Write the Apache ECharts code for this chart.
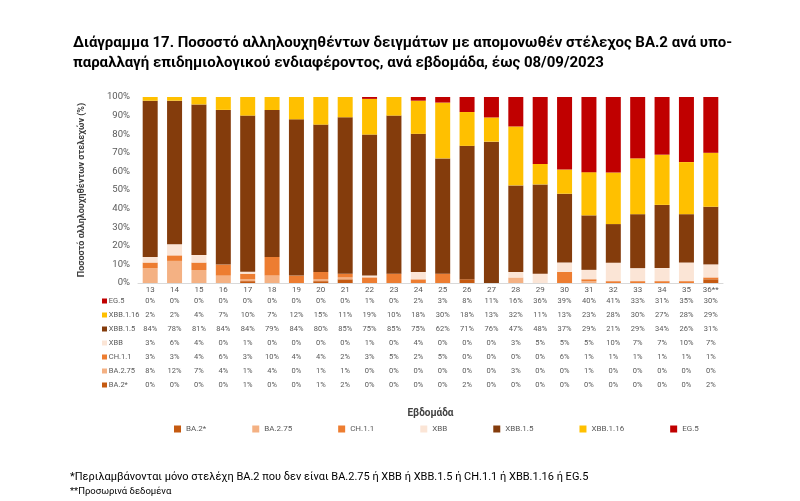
<!DOCTYPE html>
<html>
<head>
<meta charset="utf-8">
<script src="https://cdn.jsdelivr.net/npm/echarts@6/dist/echarts.min.js"></script>
<style>
html,body{margin:0;padding:0;background:#fff;}
#c{width:800px;height:501px;}
</style>
</head>
<body>
<div id="c"></div>
<script>
var weeks = ['13','14','15','16','17','18','19','20','21','22','23','24','25','26','27','28','29','30','31','32','33','34','35','36**'];
var EG5     = [0,0,0,0,0,0,0,0,0,1,0,2,3,8,11,16,36,39,40,41,33,31,35,30];
var XBB116  = [2,2,4,7,10,7,12,15,11,19,10,18,30,18,13,32,11,13,23,28,30,27,28,29];
var XBB15   = [84,78,81,84,84,79,84,80,85,75,85,75,62,71,76,47,48,37,29,21,29,34,26,31];
var XBB     = [3,6,4,0,1,0,0,0,0,1,0,4,0,0,0,3,5,5,5,10,7,7,10,7];
var CH11    = [3,3,4,6,3,10,4,4,2,3,5,2,5,0,0,0,0,6,1,1,1,1,1,1];
var BA275   = [8,12,7,4,1,4,0,1,1,0,0,0,0,0,0,3,0,0,1,0,0,0,0,0];
var BA2     = [0,0,0,0,1,0,0,1,2,0,0,0,0,2,0,0,0,0,0,0,0,0,0,2];
var yTicks  = [0,10,20,30,40,50,60,70,80,90,100];

var FONT = 'Roboto, "Noto Sans", sans-serif';
var series = [
  {name:'BA.2*',    data:BA2,    color:'#C55A11'},
  {name:'BA.2.75',  data:BA275,  color:'#F4B183'},
  {name:'CH.1.1',   data:CH11,   color:'#ED7D31'},
  {name:'XBB',      data:XBB,    color:'#FBE5D6'},
  {name:'XBB.1.5',  data:XBB15,  color:'#843C0C'},
  {name:'XBB.1.16', data:XBB116, color:'#FFC000'},
  {name:'EG.5',     data:EG5,    color:'#C00000'}
];
// 100% stacked: each column scaled by its total (as in the source spreadsheet chart)
var totals = weeks.map(function(w, i){
  return series.reduce(function(a, s){ return a + s.data[i]; }, 0);
});
// table rows top to bottom
var rows = [series[6],series[5],series[4],series[3],series[2],series[1],series[0]];

var xAxes = [{
  type:'category', data:weeks, gridIndex:0, position:'bottom',
  axisLine:{show:true, lineStyle:{color:'#D9D9D9', width:1}},
  axisTick:{show:false},
  axisLabel:{interval:0, fontSize:8, color:'#595959', margin:7, verticalAlign:'middle', fontFamily:FONT},
  name:'Εβδομάδα', nameLocation:'middle', nameGap:125,
  nameTextStyle:{fontSize:10, fontWeight:'bold', color:'#404040', fontFamily:FONT}
}];
rows.forEach(function(s, r){
  xAxes.push({
    type:'category', data:weeks, gridIndex:0, position:'bottom', offset:18 + r*14,
    axisLine:{show:false}, axisTick:{show:false},
    axisLabel:{interval:0, fontSize:7.5, color:'#595959', margin:0, verticalAlign:'middle', fontFamily:FONT,
      formatter:function(v, i){ return s.data[i] + '%'; }},
    name:'{k| } ' + s.name, nameLocation:'start', nameGap:36,
    nameTextStyle:{align:'left', verticalAlign:'middle', fontSize:7.5, color:'#595959', fontFamily:FONT,
      rich:{k:{backgroundColor:s.color, width:5, height:5, fontSize:5}}}
  });
});

var chart = echarts.init(document.getElementById('c'), null, {renderer:'canvas'});
chart.setOption({
  backgroundColor:'#ffffff',
  animation:false,
  textStyle:{fontFamily:FONT},
  title:{
    text:'Διάγραμμα 17. Ποσοστό αλληλουχηθέντων δειγμάτων με απομονωθέν στέλεχος BA.2 ανά υπο-\nπαραλλαγή επιδημιολογικού ενδιαφέροντος, ανά εβδομάδα, έως 08/09/2023',
    left:68, top:28,
    textStyle:{fontSize:15, fontWeight:'bold', color:'#000', lineHeight:20, fontFamily:FONT}
  },
  grid:{left:138, right:77, top:97, bottom:218, containLabel:false},
  legend:{
    data:series.map(function(s){return s.name;}),
    left:169, top:420, itemWidth:7, itemHeight:7, itemGap:46, icon:'rect',
    textStyle:{fontSize:8, color:'#595959', fontFamily:FONT}
  },
  xAxis:xAxes,
  yAxis:{
    type:'value', min:yTicks[0], max:yTicks[yTicks.length-1], interval:10,
    axisLine:{show:false}, axisTick:{show:false}, splitLine:{show:false},
    axisLabel:{formatter:'{value}%', fontSize:9.5, color:'#595959', margin:8, fontFamily:FONT},
    name:'Ποσοστό αλληλουχηθέντων στελεχών (%)', nameLocation:'middle', nameGap:52, nameRotate:90,
    nameTextStyle:{fontSize:9, fontWeight:'bold', color:'#404040', fontFamily:FONT}
  },
  series:series.map(function(s){
    return {name:s.name, type:'bar', stack:'all',
      data:s.data.map(function(v, i){ return v * 100 / totals[i]; }),
      xAxisIndex:0, barWidth:15, itemStyle:{color:s.color}};
  }),
  graphic:[
    {type:'text', left:70, top:472, style:{text:'*Περιλαμβάνονται μόνο στελέχη BA.2 που δεν είναι BA.2.75 ή XBB ή XBB.1.5 ή CH.1.1 ή XBB.1.16 ή EG.5', fontSize:11, fill:'#000', fontFamily:FONT}},
    {type:'text', left:70, top:487, style:{text:'**Προσωρινά δεδομένα', fontSize:9.5, fill:'#000', fontFamily:FONT}}
  ]
});
</script>
</body>
</html>
